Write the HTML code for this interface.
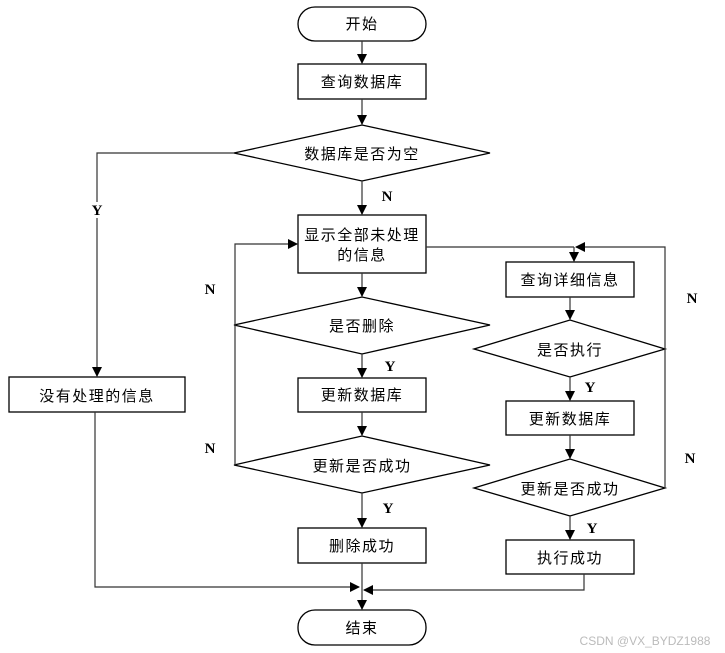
<!DOCTYPE html>
<html><head><meta charset="utf-8"><style>
html,body{margin:0;padding:0;background:#fff;}
svg{display:block;}
text{font-family:"Liberation Serif","Noto Sans CJK SC",serif;font-size:15px;fill:#000;}
.c{font-family:"Liberation Sans","Noto Sans CJK SC",sans-serif;letter-spacing:1.5px;}
.l{font-family:"Liberation Serif",serif;font-size:15px;font-weight:bold;}
</style></head><body>
<svg width="725" height="653" viewBox="0 0 725 653" xmlns="http://www.w3.org/2000/svg">
<defs><marker id="a" markerWidth="10" markerHeight="10" refX="9" refY="5" orient="auto" markerUnits="userSpaceOnUse"><path d="M0,0 L10,5 L0,10 z" fill="#000"/></marker></defs>
<g fill="#fff" stroke="#000" stroke-width="1.3">
<rect x="298" y="7" width="128" height="34" rx="17"/>
<rect x="298" y="64" width="128" height="35"/>
<polygon points="234,153 362,125 490,153 362,181"/>
<rect x="9" y="377" width="176" height="35"/>
<rect x="298" y="215" width="128" height="58"/>
<polygon points="234,325 362,297 490,325 362,354"/>
<rect x="298" y="378" width="128" height="34"/>
<polygon points="234,465 362,436 490,465 362,493"/>
<rect x="298" y="528" width="128" height="35"/>
<rect x="506" y="262" width="128" height="35"/>
<polygon points="474,349 570,320 665,349 570,377"/>
<rect x="506" y="401" width="128" height="34"/>
<polygon points="474,488 570,459 665,488 570,516"/>
<rect x="506" y="540" width="128" height="34"/>
<rect x="298" y="610" width="128" height="35" rx="17"/>
</g>
<g fill="none" stroke="#333" stroke-width="1.2">
<line x1="362" y1="41" x2="362" y2="63" marker-end="url(#a)"/>
<line x1="362" y1="99" x2="362" y2="124" marker-end="url(#a)"/>
<line x1="362" y1="181" x2="362" y2="214" marker-end="url(#a)"/>
<polyline points="234,153 97,153 97,376" marker-end="url(#a)"/>
<polyline points="95,412 95,587 359,587" marker-end="url(#a)"/>
<line x1="362" y1="273" x2="362" y2="296" marker-end="url(#a)"/>
<line x1="362" y1="354" x2="362" y2="377" marker-end="url(#a)"/>
<line x1="362" y1="412" x2="362" y2="435" marker-end="url(#a)"/>
<line x1="362" y1="493" x2="362" y2="527" marker-end="url(#a)"/>
<line x1="362" y1="563" x2="362" y2="609" marker-end="url(#a)"/>
<polyline points="235,325 235,244 297,244" marker-end="url(#a)"/>
<line x1="235" y1="465" x2="235" y2="325"/>
<line x1="426" y1="247" x2="574" y2="247"/>
<polyline points="665,349 665,247 576,247" marker-end="url(#a)"/>
<line x1="665" y1="488" x2="665" y2="349"/>
<line x1="574" y1="247" x2="574" y2="261" marker-end="url(#a)"/>
<line x1="570" y1="297" x2="570" y2="319" marker-end="url(#a)"/>
<line x1="570" y1="377" x2="570" y2="400" marker-end="url(#a)"/>
<line x1="570" y1="435" x2="570" y2="458" marker-end="url(#a)"/>
<line x1="570" y1="516" x2="570" y2="539" marker-end="url(#a)"/>
<polyline points="584,574 584,590 364,590" marker-end="url(#a)"/>
</g>
<rect x="89" y="202" width="16" height="16" fill="#fff"/>
<g text-anchor="middle">
<text class="c" x="362" y="29">开始</text>
<text class="c" x="362" y="87">查询数据库</text>
<text class="c" x="362" y="159">数据库是否为空</text>
<text class="c" x="97" y="401">没有处理的信息</text>
<text class="c" x="362" y="240">显示全部未处理</text>
<text class="c" x="362" y="260">的信息</text>
<text class="c" x="362" y="331">是否删除</text>
<text class="c" x="362" y="400">更新数据库</text>
<text class="c" x="362" y="471">更新是否成功</text>
<text class="c" x="362" y="551">删除成功</text>
<text class="c" x="570" y="285">查询详细信息</text>
<text class="c" x="570" y="355">是否执行</text>
<text class="c" x="570" y="424">更新数据库</text>
<text class="c" x="570" y="494">更新是否成功</text>
<text class="c" x="570" y="563">执行成功</text>
<text class="c" x="362" y="633">结束</text>
<text class="l" x="387" y="201">N</text>
<text class="l" x="97" y="215">Y</text>
<text class="l" x="390" y="371">Y</text>
<text class="l" x="388" y="513">Y</text>
<text class="l" x="590" y="392">Y</text>
<text class="l" x="592" y="533">Y</text>
<text class="l" x="210" y="294">N</text>
<text class="l" x="210" y="453">N</text>
<text class="l" x="692" y="303">N</text>
<text class="l" x="690" y="463">N</text>
<text x="645" y="645" style="font-family:'Liberation Sans',sans-serif;font-size:12px;fill:#bbb;">CSDN @VX_BYDZ1988</text>
</g>
</svg>
</body></html>
